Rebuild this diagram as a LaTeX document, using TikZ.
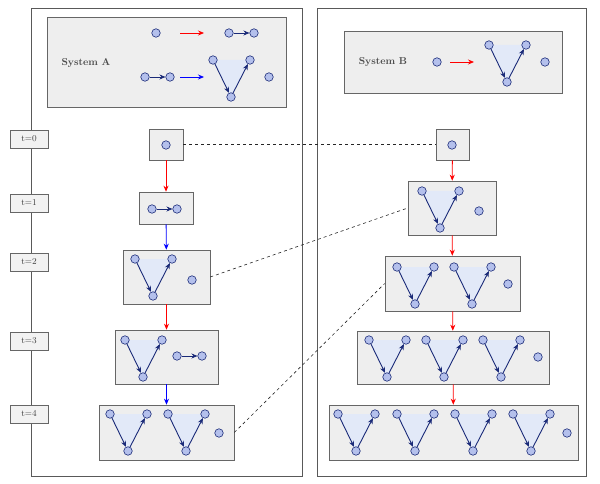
\documentclass[tikz,border=0pt]{standalone}
\usetikzlibrary{arrows.meta}
\definecolor{dotf}{HTML}{B4C0EC}
\definecolor{navy}{HTML}{1A2A78}
\definecolor{trif}{HTML}{E2E9F8}
\tikzset{
 x=1pt,y=-1pt,
 dot/.style={circle,draw=navy,fill=dotf,inner sep=0,minimum size=8.5pt,line width=0.6pt},
 ed/.style={-{Stealth[length=6pt,width=5pt]},navy,line width=0.9pt},
 box/.style={draw=gray!80!black,fill=gray!13,line width=0.6pt,inner sep=0},
 big/.style={draw=gray!70!black,line width=0.7pt},
 tl/.style={draw=gray!80!black,fill=gray!10,minimum width=38pt,minimum height=18pt,inner sep=0,font=\small,text=black!75},
 evo/.style={-{Stealth[length=6pt,width=5pt]},line width=0.8pt},
 corr/.style={dashed,gray!30!black,line width=0.6pt},
 title/.style={font=\bfseries,text=black!70},
 tri/.pic={
  \fill[trif] (0,0)--(37,0)--(18,37)--cycle;
  \node[dot] (-a) at (0,0) {};
  \node[dot] (-c) at (37,0) {};
  \node[dot] (-b) at (18,37) {};
  \draw[ed] (-a)--(-b); \draw[ed] (-b)--(-c);
 },
 pair/.pic={
  \node[dot] (-a) at (0,0) {};
  \node[dot] (-b) at (25,0) {};
  \draw[ed] (-a)--(-b);
 }
}
\begin{document}
\begin{tikzpicture}
\useasboundingbox (0,0) rectangle (600,484);
\draw[big] (31,8) rectangle (302,476);
\draw[big] (317,8) rectangle (586,476);
% legends
\node[box,minimum width=239pt,minimum height=90pt] (SA) at (166.5,62) {};
\node[title] (SAt) at (86,63) {System A};
\node[dot] (la0) at (156,33) {};
\coordinate (lar1) at (180,33); \coordinate (lar2) at (204,33);
\draw[evo,red] (lar1)--(lar2);
\pic (lp1) at (229,33) {pair};
\pic (lp2) at (145,77) {pair};
\coordinate (lab1) at (180,77); \coordinate (lab2) at (204,77);
\draw[evo,blue] (lab1)--(lab2);
\pic (lt1) at (213,60) {tri};
\node[dot] (ld1) at (269,77) {};
\node[box,minimum width=218pt,minimum height=62pt] (SB) at (453,62) {};
\node[title] (SBt) at (383,62) {System B};
\node[dot] (lb0) at (437,62) {};
\coordinate (lbr1) at (450,62); \coordinate (lbr2) at (474,62);
\draw[evo,red] (lbr1)--(lbr2);
\pic (lt2) at (489,45) {tri};
\node[dot] (ld2) at (545,62) {};
% time labels
\node[tl] (t0) at (29,139) {t=0};
\node[tl] (t1) at (29,203) {t=1};
\node[tl] (t2) at (29,262) {t=2};
\node[tl] (t3) at (29,341) {t=3};
\node[tl] (t4) at (29,414) {t=4};
% column A
\node[box,minimum width=34pt,minimum height=31pt] (A0) at (166,144.5) {};
\node[dot] (a0d) at (166,145) {};
\node[box,minimum width=54pt,minimum height=32pt] (A1) at (166,208) {};
\pic (a1p) at (152,209) {pair};
\node[box,minimum width=87pt,minimum height=54pt] (A2) at (166.5,277) {};
\pic (a2t) at (135,259) {tri};
\node[dot] (a2d) at (192,280) {};
\node[box,minimum width=103pt,minimum height=54pt] (A3) at (166.5,357) {};
\pic (a3t) at (125,340) {tri};
\pic (a3p) at (177,356) {pair};
\node[box,minimum width=135pt,minimum height=55pt] (A4) at (166.5,432.5) {};
\pic (a4t1) at (110,414) {tri};
\pic (a4t2) at (168,414) {tri};
\node[dot] (a4d) at (219,433) {};
\draw[evo,red] (A0)--(A1);
\draw[evo,blue] (A1)--(A2);
\draw[evo,red] (A2)--(A3);
\draw[evo,blue] (A3)--(A4);
% column B
\node[box,minimum width=33pt,minimum height=31pt] (B0) at (452.5,144.5) {};
\node[dot] (b0d) at (452,145) {};
\node[box,minimum width=88pt,minimum height=54pt] (B1) at (452,208) {};
\pic (b1t) at (422,191) {tri};
\node[dot] (b1d) at (479,211) {};
\node[box,minimum width=135pt,minimum height=55pt] (B2) at (452.5,283.5) {};
\pic (b2t1) at (397,267) {tri};
\pic (b2t2) at (454,267) {tri};
\node[dot] (b2d) at (508,284) {};
\node[box,minimum width=192pt,minimum height=53pt] (B3) at (453,357.5) {};
\pic (b3t1) at (369,340) {tri};
\pic (b3t2) at (426,340) {tri};
\pic (b3t3) at (483,340) {tri};
\node[dot] (b3d) at (538,357) {};
\node[box,minimum width=249pt,minimum height=55pt] (B4) at (453.5,432.5) {};
\pic (b4t1) at (338,414) {tri};
\pic (b4t2) at (397,414) {tri};
\pic (b4t3) at (455,414) {tri};
\pic (b4t4) at (513,414) {tri};
\node[dot] (b4d) at (567,433) {};
\draw[evo,red] (B0)--(B1);
\draw[evo,red] (B1)--(B2);
\draw[evo,red] (B2)--(B3);
\draw[evo,red] (B3)--(B4);
% dashed
\draw[corr] (A0.east)--(B0.west);
\draw[corr] (A2.east)--(B1.west);
\draw[corr] (A4.east)--(B2.west);
\end{tikzpicture}
\end{document}
